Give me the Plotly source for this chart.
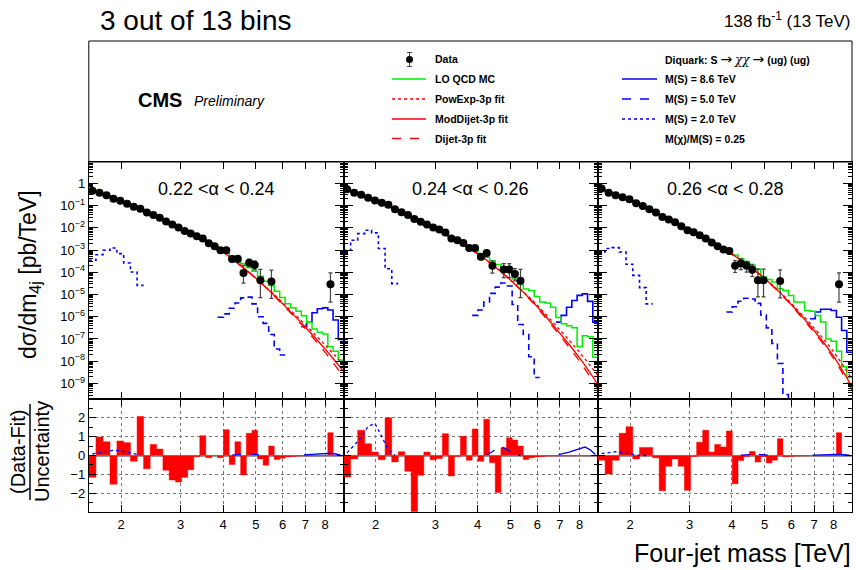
import math
import plotly.graph_objects as go

# ---------------- data ----------------
# CMS four-jet mass bin edges [TeV]
edges = [1.607, 1.687, 1.770, 1.856, 1.945, 2.037, 2.132, 2.231, 2.332, 2.438, 2.546,
         2.659, 2.775, 2.895, 3.019, 3.147, 3.279, 3.416, 3.558, 3.704, 3.854, 4.010,
         4.171, 4.337, 4.509, 4.686, 4.869, 5.058, 5.253, 5.455, 5.663, 5.877, 6.099,
         6.328, 6.564, 6.808, 7.060, 7.320, 7.589, 7.866, 8.152, 8.447, 8.752, 9.067]

alpha_labels = ["0.22 <α < 0.24", "0.24 <α < 0.26", "0.26 <α < 0.28"]

N = None
# data: log10(dsigma/dm) per bin (None = empty bin)
data1_log = [-0.33, -0.42, -0.54, -0.69, -0.78, -0.92, -1.05, -1.14, -1.31, -1.42, -1.55,
             -1.72, -1.85, -1.99, -2.14, -2.26, -2.38, -2.48, -2.69, -2.83, -3.01, -3.01,
             -3.40, -3.39, -4.03, -3.57, -3.67, -4.36, N, -4.42, N, N, N, N, N, N, N, N, N, N,
             -4.54, N, N]
data2_log = [-0.27, -0.42, -0.51, -0.65, -0.77, -0.87, -0.96, -1.16, -1.30, -1.42, -1.60,
             -1.73, -1.85, -1.99, -2.08, -2.21, -2.48, -2.56, -2.68, -2.91, -2.91, -3.30,
             -3.13, -3.71, N, -3.88, -3.88, -4.08, -4.38, N, N, N, N, N, N, N, N, N, N, N,
             N, N, N]
data3_log = [-0.23, -0.42, -0.53, -0.63, -0.72, -0.90, -1.02, -1.16, -1.31, -1.51, -1.63,
             -1.75, -1.93, -2.11, -2.20, -2.33, -2.48, -2.66, -2.83, -2.98, -3.04, -3.71,
             -3.60, -3.71, -3.89, -4.36, -4.36, N, N, -4.39, N, N, N, N, N, N, N, N, N, N,
             -4.54, N, N]
# error bars in decades (up, down)
err1_up = [0]*20 + [0.07, 0.07, 0.12, 0.12, 0.34, 0.16, 0.18, 0.49, 0, 0.52] + [0]*10 + [0.51, 0, 0]
err1_dn = [0]*20 + [0.08, 0.08, 0.15, 0.15, 0.46, 0.19, 0.22, 0.78, 0, 0.75] + [0]*10 + [0.80, 0, 0]
err2_up = [0]*19 + [0.06, 0.06, 0.12, 0.12, 0.22, 0, 0.27, 0.27, 0.25, 0.51] + [0]*14
err2_dn = [0]*19 + [0.06, 0.06, 0.14, 0.14, 0.33, 0, 0.36, 0.36, 0.31, 0.76] + [0]*14
err3_up = [0]*19 + [0.05, 0.07, 0.23, 0.20, 0.20, 0.25, 0.50, 0.50, 0, 0, 0.50] + [0]*10 + [0.51, 0, 0]
err3_dn = [0]*19 + [0.05, 0.08, 0.30, 0.28, 0.28, 0.30, 0.75, 0.75, 0, 0, 0.76] + [0]*10 + [0.80, 0, 0]

# LO QCD MC histogram (log10)
qcd1_log = [-0.30, -0.42, -0.55, -0.67, -0.79, -0.91, -1.04, -1.17, -1.30, -1.43, -1.56,
            -1.70, -1.83, -1.96, -2.10, -2.24, -2.38, -2.52, -2.66, -2.80, -2.96, -3.12,
            -3.28, -3.45, -3.62, -3.78, -3.95, -4.18, -4.40, -4.60, -4.85, -5.13, -5.42,
            -5.60, -5.75, -5.95, -6.25, -6.55, -6.70, -6.78, -7.35, -7.55, -7.95]
qcd2_log = [-0.27, -0.40, -0.53, -0.66, -0.79, -0.92, -1.05, -1.18, -1.31, -1.45, -1.58,
            -1.72, -1.86, -2.00, -2.14, -2.28, -2.43, -2.57, -2.72, -2.87, -3.02, -3.17,
            -3.32, -3.48, -3.65, -3.82, -4.00, -4.30, -4.55, -4.75, -4.82, -5.09, -5.34,
            -5.38, -5.57, -6.03, -6.32, -6.40, -6.50, -7.35, -6.85, -6.90, -7.82]
qcd3_log = [-0.24, -0.38, -0.51, -0.63, -0.76, -0.89, -1.02, -1.16, -1.30, -1.44, -1.58,
            -1.73, -1.87, -2.02, -2.17, -2.32, -2.47, -2.62, -2.77, -2.92, -3.07, -3.22,
            -3.38, -3.52, -3.68, -3.85, -4.21, -4.33, -4.44, -4.74, -4.82, -5.04, -5.34,
            -5.34, -5.72, -5.75, -5.94, -6.24, -7.00, -7.10, -7.55, -8.25, -8.73]

# fit curves, sampled at these masses (log10 values)
fit_m = [1.607, 2.0, 2.5, 3.0, 3.5, 4.0, 4.5, 5.0, 5.5, 6.0, 7.0, 8.0, 9.067]
moddijet1 = [-0.27, -0.79, -1.42, -2.03, -2.57, -3.09, -3.69, -4.27, -4.85, -5.42, -6.47, -7.45, -8.45]
powexp1   = [-0.27, -0.79, -1.42, -2.03, -2.57, -3.09, -3.69, -4.27, -4.83, -5.37, -6.36, -7.27, -8.15]
dijet1    = [-0.27, -0.79, -1.42, -2.03, -2.57, -3.09, -3.69, -4.27, -4.87, -5.46, -6.55, -7.60, -8.70]
moddijet2 = [-0.25, -0.79, -1.45, -2.07, -2.63, -3.17, -3.75, -4.35, -4.95, -5.55, -6.75, -7.85, -9.05]
powexp2   = [-0.25, -0.79, -1.45, -2.07, -2.63, -3.17, -3.75, -4.35, -4.92, -5.48, -6.60, -7.60, -8.65]
dijet2    = [-0.25, -0.79, -1.45, -2.07, -2.63, -3.17, -3.75, -4.35, -4.97, -5.60, -6.85, -8.00, -9.25]
moddijet3 = [-0.22, -0.76, -1.46, -2.10, -2.66, -3.18, -3.73, -4.28, -4.86, -5.46, -6.62, -7.78, -9.15]
powexp3   = [-0.22, -0.76, -1.46, -2.10, -2.66, -3.18, -3.73, -4.28, -4.83, -5.40, -6.50, -7.58, -8.80]
dijet3    = [-0.22, -0.76, -1.46, -2.10, -2.66, -3.18, -3.73, -4.28, -4.88, -5.50, -6.70, -7.88, -9.30]

# diquark signals (log10), first bin index and values
sig20_first = 0
sig20_1 = [-3.46, -3.21, -3.01, -2.91, -3.16, -3.58, -3.99, -4.59]
sig20_2 = [-3.01, -2.56, -2.26, -2.11, -2.23, -2.93, -3.84, -4.51]
sig20_3 = [-3.09, -2.93, -2.89, -3.09, -3.64, -4.14, -4.69, -5.42]
sig50_first = 20
sig50_1 = [-6.02, -5.87, -5.62, -5.38, -5.15, -5.12, -5.42, -6.00, -6.30, -6.80, -7.45, -7.72]
sig50_2 = [-5.94, -5.70, -5.34, -4.95, -4.67, -4.48, -4.62, -5.45, -6.35, -6.80, -7.80, -8.73]
sig50_3 = [-5.79, -5.55, -5.30, -5.17, -5.20, -5.40, -5.92, -6.50, -7.20, -8.10, -9.50, -10.5]
sig86_first = 35
sig86_1 = [-6.45, -6.25, -5.82, -5.64, -5.60, -5.70, -6.15, -7.02]
sig86_2 = [-6.24, -5.94, -5.57, -5.27, -5.04, -4.97, -5.31, -6.24]
sig86_3 = [-6.09, -5.79, -5.66, -5.66, -5.72, -6.02, -6.62, -7.60]

# (Data-Fit)/Uncertainty
pull1 = [-1.16, 0.98, 0.73, -1.52, 0.77, 0.68, -0.30, 2.07, -0.71, 0.59, 0.34, -0.78, -1.30,
         -1.41, -1.16, -0.75, -0.07, 1.05, -0.12, 0.0, -0.12, 1.37, -0.48, 0.73, -1.03, 1.18,
         1.34, -0.18, -0.52, 0.50, -0.21, -0.14, -0.08, -0.05, -0.03, -0.02, -0.02, -0.01,
         -0.01, -0.01, 1.21, -0.01, -0.01]
pull2 = [-1.14, -0.18, 1.34, 0.62, 0.18, -0.23, 2.01, -0.34, 0.20, -0.84, -2.98, -1.05, 0.18,
         -0.23, -0.16, 1.16, -1.09, -0.05, 1.02, -0.25, 1.41, -0.30, 1.93, -0.39, -1.96, 0.41,
         0.94, 0.82, 0.50, -0.21, -0.12, -0.08, -0.05, -0.03, -0.02, -0.02, -0.01, -0.01,
         -0.01, -0.01, -0.01, -0.01, -0.01]
pull3 = [-0.25, -0.98, -0.25, 1.18, 1.53, -0.18, 0.43, 0.43, -0.12, -1.87, -0.57, -0.18, -0.57,
         -1.85, -0.05, 0.71, 1.34, 0.18, 0.59, 0.45, 1.30, -1.50, -0.27, -0.05, 0.21, -0.35,
         -0.05, -0.40, -0.25, 0.89, -0.07, -0.05, -0.03, -0.02, -0.02, -0.01, -0.01, -0.01,
         -0.01, -0.01, 1.21, -0.01, -0.01]
# signal / uncertainty in the pull panels
spull20_1 = [0.08, 0.15, 0.22, 0.28, 0.25, 0.18, 0.08, 0.02]
spull20_2 = [0.14, 0.55, 0.95, 1.55, 1.70, 1.00, 0.30, 0.00]
spull20_3 = [0.10, 0.15, 0.20, 0.15, 0.08, 0.03, 0.00, 0.00]
spull50_first = 22
spull50_1 = [0.02, 0.05, 0.10, 0.10, 0.06, 0.03, 0.01]
spull50_2 = [0.05, 0.20, 0.46, 0.41, 0.23, 0.06, 0.00]
spull50_3 = [0.02, 0.05, 0.08, 0.07, 0.04, 0.01, 0.00]
spull86_1 = [0.03, 0.05, 0.08, 0.10, 0.12, 0.12, 0.08, 0.02]
spull86_2 = [0.05, 0.10, 0.18, 0.27, 0.36, 0.45, 0.30, 0.05]
spull86_3 = [0.02, 0.03, 0.05, 0.06, 0.07, 0.06, 0.04, 0.02]

x_ticks = [2, 3, 4, 5, 6, 7, 8]

# ---------------- layout helpers ----------------
W, H = 856, 570
FONT = "Liberation Sans, Arial, Helvetica, sans-serif"
PX = [88.8, 343.5, 598.0, 852.0]
UP = (162.0, 399.0)
LO = (399.0, 512.0)
RED, GREEN, BLUE = "#ff0000", "#00ee00", "#0000ff"


def fx(X):
    return X / W


def fy(Y):
    return 1 - Y / H


centers = [math.sqrt(a * b) for a, b in zip(edges[:-1], edges[1:])]

fig = go.Figure()

panels = [
    dict(data=data1_log, up=err1_up, dn=err1_dn, qcd=qcd1_log, fits=(powexp1, moddijet1, dijet1),
         s20=sig20_1, s50=sig50_1, s86=sig86_1, pull=pull1, sp=(spull20_1, spull50_1, spull86_1)),
    dict(data=data2_log, up=err2_up, dn=err2_dn, qcd=qcd2_log, fits=(powexp2, moddijet2, dijet2),
         s20=sig20_2, s50=sig50_2, s86=sig86_2, pull=pull2, sp=(spull20_2, spull50_2, spull86_2)),
    dict(data=data3_log, up=err3_up, dn=err3_dn, qcd=qcd3_log, fits=(powexp3, moddijet3, dijet3),
         s20=sig20_3, s50=sig50_3, s86=sig86_3, pull=pull3, sp=(spull20_3, spull50_3, spull86_3)),
]


def hist(first, vals):
    xs = edges[first:first + len(vals) + 1]
    ys = [10 ** v for v in vals] + [10 ** vals[-1]]
    return xs, ys


xr = [math.log10(edges[0]), math.log10(edges[-1])]
major_y = [10.0 ** k for k in range(-9, 1)]
major_txt = ["10<sup>−%d</sup>" % (-k) for k in range(-9, 0)] + ["1"]
minor_y = [m * 10.0 ** k for k in range(-10, 1) for m in range(2, 10)]

for k, p in enumerate(panels):
    i = k + 1
    xa_u = "x" if i == 1 else "x%d" % i
    ya_u = "y" if i == 1 else "y%d" % i
    xa_l = "x%d" % (i + 3)
    ya_l = "y%d" % (i + 3)

    # signals
    xs, ys = hist(sig20_first, p["s20"])
    fig.add_trace(go.Scatter(x=xs, y=ys, mode="lines", line=dict(color=BLUE, width=1.6, dash="dot", shape="hv"),
                             xaxis=xa_u, yaxis=ya_u, showlegend=False))
    xs, ys = hist(sig50_first, p["s50"])
    fig.add_trace(go.Scatter(x=xs, y=ys, mode="lines", line=dict(color=BLUE, width=1.6, dash="6px,4px", shape="hv"),
                             xaxis=xa_u, yaxis=ya_u, showlegend=False))
    xs, ys = hist(sig86_first, p["s86"])
    fig.add_trace(go.Scatter(x=xs, y=ys, mode="lines", line=dict(color=BLUE, width=1.6, shape="hv"),
                             xaxis=xa_u, yaxis=ya_u, showlegend=False))
    # QCD MC
    xs, ys = hist(0, p["qcd"])
    fig.add_trace(go.Scatter(x=xs, y=ys, mode="lines", line=dict(color=GREEN, width=1.5, shape="hv"),
                             xaxis=xa_u, yaxis=ya_u, showlegend=False))
    # fits
    for vals, dash in zip(p["fits"], ["dot", "solid", "dash"]):
        fig.add_trace(go.Scatter(x=fit_m, y=[10 ** v for v in vals], mode="lines",
                                 line=dict(color=RED, width=1.3, dash=dash, shape="spline"),
                                 xaxis=xa_u, yaxis=ya_u, showlegend=False))
    # data
    dx, dy, eu, ed = [], [], [], []
    for c, v, u, d in zip(centers, p["data"], p["up"], p["dn"]):
        if v is None:
            continue
        dx.append(c)
        dy.append(10 ** v)
        eu.append(10 ** (v + u) - 10 ** v)
        ed.append(10 ** v - 10 ** (v - d))
    fig.add_trace(go.Scatter(x=dx, y=dy, mode="markers",
                             marker=dict(color="black", size=8),
                             error_y=dict(type="data", symmetric=False, array=eu, arrayminus=ed,
                                          color="#444444", thickness=1.2, width=2),
                             xaxis=xa_u, yaxis=ya_u, showlegend=False))

    # pulls
    xs = edges
    ys = p["pull"] + [p["pull"][-1]]
    fig.add_trace(go.Scatter(x=xs, y=ys, mode="lines", line=dict(color=RED, width=0.5, shape="hv"),
                             fill="tozeroy", fillcolor=RED, xaxis=xa_l, yaxis=ya_l, showlegend=False))
    sp20, sp50, sp86 = p["sp"]
    fig.add_trace(go.Scatter(x=centers[0:len(sp20)], y=sp20, mode="lines",
                             line=dict(color=BLUE, width=1.3, dash="dot"), xaxis=xa_l, yaxis=ya_l, showlegend=False))
    fig.add_trace(go.Scatter(x=centers[spull50_first:spull50_first + len(sp50)], y=sp50, mode="lines",
                             line=dict(color=BLUE, width=1.3, dash="dash"), xaxis=xa_l, yaxis=ya_l, showlegend=False))
    fig.add_trace(go.Scatter(x=centers[sig86_first:sig86_first + len(sp86)], y=sp86, mode="lines",
                             line=dict(color=BLUE, width=1.3), xaxis=xa_l, yaxis=ya_l, showlegend=False))

    dom_x = [fx(PX[k]), fx(PX[k + 1])]
    axline = dict(showline=True, linecolor="black", linewidth=1, mirror="ticks",
                  ticks="inside", tickcolor="black")
    key_xu = "xaxis" if i == 1 else "xaxis%d" % i
    key_yu = "yaxis" if i == 1 else "yaxis%d" % i
    fig.layout[key_xu] = dict(type="log", range=xr, domain=dom_x, anchor=ya_u,
                              tickvals=x_ticks, showticklabels=False, ticklen=7, showgrid=False,
                              zeroline=False, **axline)
    fig.layout[key_yu] = dict(type="log", range=[-9.7, 0.96], domain=[fy(UP[1]), fy(UP[0])], anchor=xa_u,
                              tickvals=major_y, ticktext=major_txt, showticklabels=(i == 1),
                              ticklen=9, showgrid=False, zeroline=False,
                              tickfont=dict(family=FONT, size=13, color="black"),
                              minor=dict(tickvals=minor_y, ticklen=4, ticks="inside", tickcolor="black"),
                              **axline)
    fig.layout["xaxis%d" % (i + 3)] = dict(type="log", range=xr, domain=dom_x, anchor=ya_l,
                                           tickvals=x_ticks, ticktext=[str(t) for t in x_ticks],
                                           ticklen=7, showgrid=True, gridcolor="#777777", griddash="dot",
                                           gridwidth=1, zeroline=False,
                                           tickfont=dict(family=FONT, size=13, color="black"), **axline)
    fig.layout["yaxis%d" % (i + 3)] = dict(range=[-3, 3], domain=[fy(LO[1]), fy(LO[0])], anchor=xa_l,
                                           tickvals=[-2, -1, 0, 1, 2], ticktext=["−2", "−1", "0", "1", "2"],
                                           showticklabels=(i == 1), ticklen=7, showgrid=True,
                                           gridcolor="#777777", griddash="dot", gridwidth=1,
                                           zeroline=True, zerolinecolor="#999999", zerolinewidth=1.5,
                                           tickfont=dict(family=FONT, size=13, color="black"),
                                           minor=dict(tickvals=[-2.5, -1.5, -0.5, 0.5, 1.5, 2.5], ticklen=4,
                                                      ticks="inside", tickcolor="black"),
                                           **axline)

# ---------------- text and legend ----------------
ann = []
shapes = []


def text(X, Y, s, size, xanchor="left", color="black", **kw):
    ann.append(dict(x=fx(X), y=fy(Y), xref="paper", yref="paper", text=s, showarrow=False,
                    xanchor=xanchor, yanchor="middle", font=dict(family=FONT, size=size, color=color), **kw))


text(98, 20, "3 out of 13 bins", 28)
text(853, 20, "138 fb<sup>-1</sup> (13 TeV)", 17, xanchor="right")
text(136, 100, "<b>CMS</b>", 20)
text(192, 101, "<i>Preliminary</i>", 14)

for k, lab in enumerate(alpha_labels):
    text((PX[k] + PX[k + 1]) / 2, 189, lab, 18, xanchor="center")

text(30, 275, "dσ/dm<sub>4j</sub> [pb/TeV]", 23, xanchor="center", textangle=-90)
text(18, 452, "(Data-Fit)", 20, xanchor="center", textangle=-90)
text(42, 452, "Uncertainty", 20, xanchor="center", textangle=-90)
text(853, 553, "Four-jet mass [TeV]", 25, xanchor="right")

shapes.append(dict(type="line", xref="paper", yref="paper", x0=fx(30), x1=fx(30), y0=fy(404), y1=fy(500),
                   line=dict(color="black", width=1.5)))
# legend box
shapes.append(dict(type="rect", xref="paper", yref="paper", x0=fx(PX[0]), x1=fx(PX[3]), y0=fy(UP[0]), y1=fy(41),
                   line=dict(color="black", width=1), layer="above"))

rows = [59.5, 79, 99, 119, 138.5]
c1_l, c1_r, c1_t = 392, 426, 433
c2_l, c2_r, c2_t = 622, 657, 663


def legline(x0, x1, Y, color, dash, width=1.5):
    shapes.append(dict(type="line", xref="paper", yref="paper", x0=fx(x0), x1=fx(x1), y0=fy(Y), y1=fy(Y),
                       line=dict(color=color, width=width, dash=dash)))


xm = 409.5
shapes.append(dict(type="line", xref="paper", yref="paper", x0=fx(xm), x1=fx(xm), y0=fy(rows[0] - 7),
                   y1=fy(rows[0] + 7), line=dict(color="#444444", width=1)))
for yy in (rows[0] - 7, rows[0] + 7):
    shapes.append(dict(type="line", xref="paper", yref="paper", x0=fx(xm - 2.5), x1=fx(xm + 2.5), y0=fy(yy),
                       y1=fy(yy), line=dict(color="#444444", width=1)))
shapes.append(dict(type="circle", xref="paper", yref="paper", x0=fx(xm - 3.5), x1=fx(xm + 3.5),
                   y0=fy(rows[0] + 3.5), y1=fy(rows[0] - 3.5), fillcolor="black", line=dict(color="black", width=0)))
legline(c1_l, c1_r, rows[1], GREEN, "solid")
legline(c1_l, c1_r, rows[2], RED, "dot")
legline(c1_l, c1_r, rows[3], RED, "solid")
legline(c1_l, c1_r, rows[4], RED, "dash")
legline(c2_l, c2_r, rows[1], BLUE, "solid")
legline(c2_l, c2_r, rows[2], BLUE, "dash")
legline(c2_l, c2_r, rows[3], BLUE, "dot")

ARROW = '<span style="font-family:DejaVu Sans;font-size:14px;font-weight:normal">→</span>'
CHI = '<span style="font-family:DejaVu Serif;font-size:12px;font-weight:normal;font-style:italic">χχ</span>'
leg1 = ["Data", "LO QCD MC", "PowExp-3p fit", "ModDijet-3p fit", "Dijet-3p fit"]
leg2 = ["Diquark: S %s %s %s (ug) (ug)" % (ARROW, CHI, ARROW), "M(S) = 8.6 TeV", "M(S) = 5.0 TeV",
        "M(S) = 2.0 TeV", "M(χ)/M(S) = 0.25"]
for Y, s in zip(rows, leg1):
    text(c1_t, Y, "<b>%s</b>" % s, 10.5)
for Y, s in zip(rows, leg2):
    text(c2_t, Y, "<b>%s</b>" % s, 10.5)

fig.update_layout(width=W, height=H, margin=dict(l=0, r=0, t=0, b=0),
                  paper_bgcolor="white", plot_bgcolor="white",
                  annotations=ann, shapes=shapes, showlegend=False,
                  font=dict(family=FONT, color="black"))

fig.write_html("out.html")
